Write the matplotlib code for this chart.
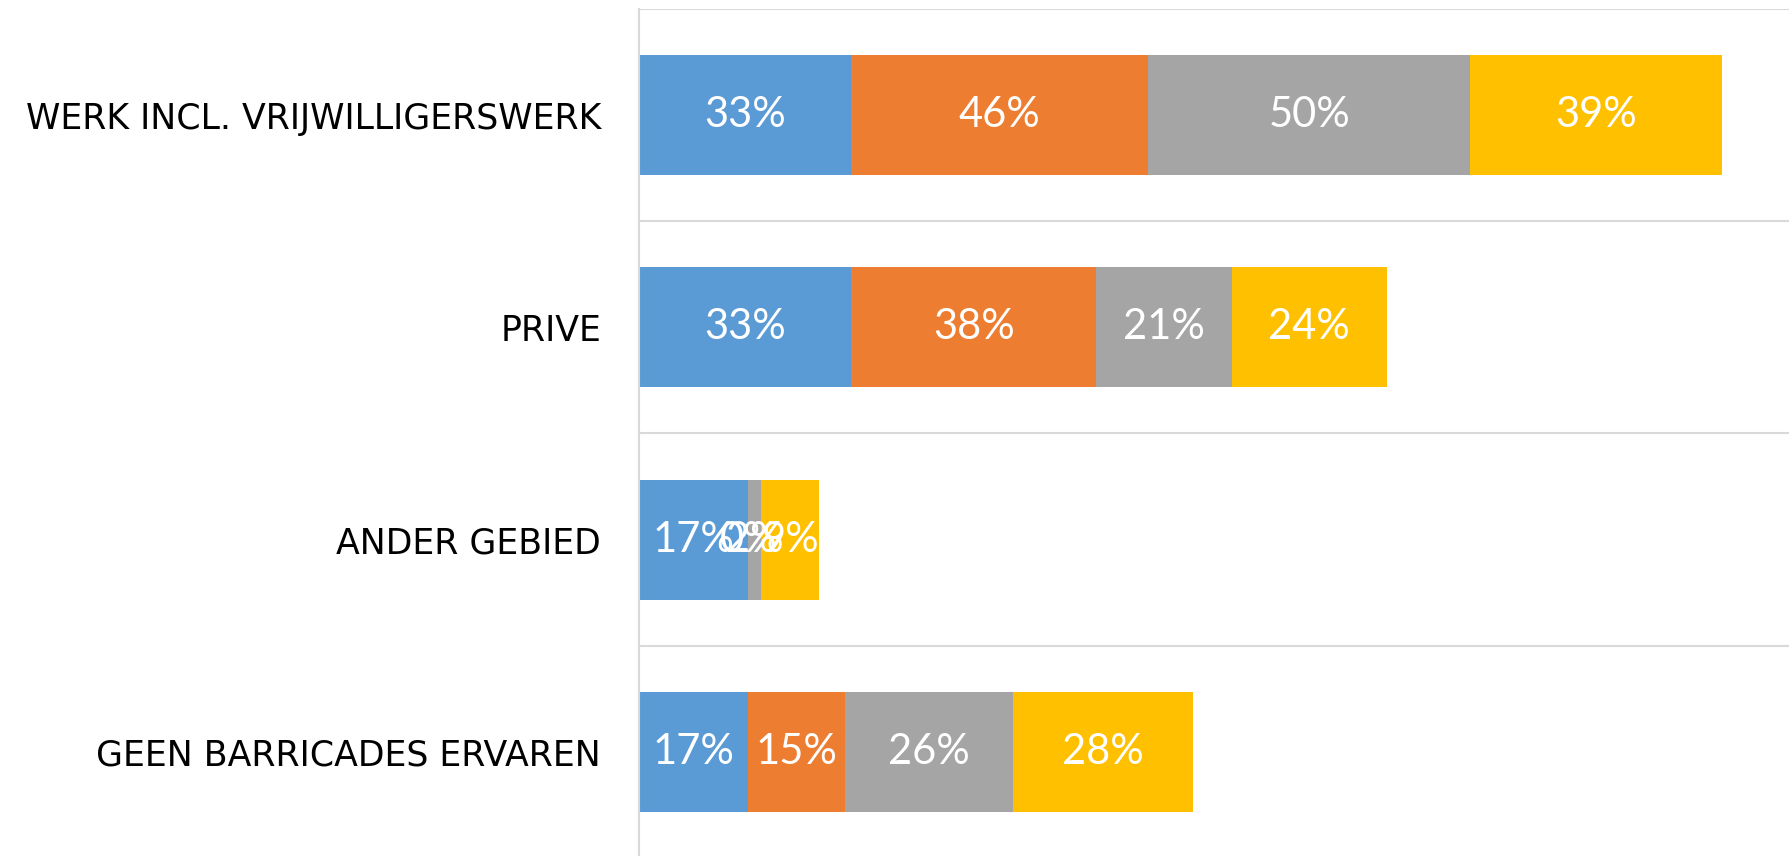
import numpy as np
import matplotlib.pyplot as plt

categories = ['WERK INCL. VRIJWILLIGERSWERK', 'PRIVE', 'ANDER GEBIED', 'GEEN BARRICADES ERVAREN']
series_1 = [33, 33, 17, 17]
series_2 = [46, 38, 0, 15]
series_3 = [50, 21, 2, 26]
series_4 = [39, 24, 9, 28]
series = [series_1, series_2, series_3, series_4]
colors = ['#5B9BD5', '#ED7D31', '#A5A5A5', '#FFC000']

fig = plt.figure(figsize=(17.89, 8.56), dpi=100)
ax = fig.add_axes([0.357, -0.0023, 0.643, 0.9918])

y = np.arange(len(categories))
left = np.zeros(len(categories))
for vals, col in zip(series, colors):
    vals = np.array(vals, dtype=float)
    ax.barh(y, vals, left=left, height=0.565, color=col, edgecolor='none')
    for yi, l, v in zip(y, left, vals):
        ax.text(l + v / 2, yi, f'{v:.0f}%', ha='center', va='center',
                color='white', fontsize=30, fontfamily='Lato')
    left += vals

ax.set_xlim(0, 178.4)
ax.set_ylim(len(categories) - 0.5, -0.5)

# gridlines between categories
for b in np.arange(-0.5, len(categories) + 0.5, 1):
    ax.axhline(b, color='#D9D9D9', lw=1.5, zorder=0)

ax.set_xticks([])
ax.set_yticks(y)
ax.set_yticklabels(categories, fontsize=25, fontfamily='DejaVu Sans')
ax.tick_params(axis='y', length=0, pad=27)
for s in ['top', 'right', 'bottom']:
    ax.spines[s].set_visible(False)
ax.spines['left'].set_color('#D9D9D9')
ax.spines['left'].set_linewidth(1.5)

fig.savefig('out.png', dpi=100)
